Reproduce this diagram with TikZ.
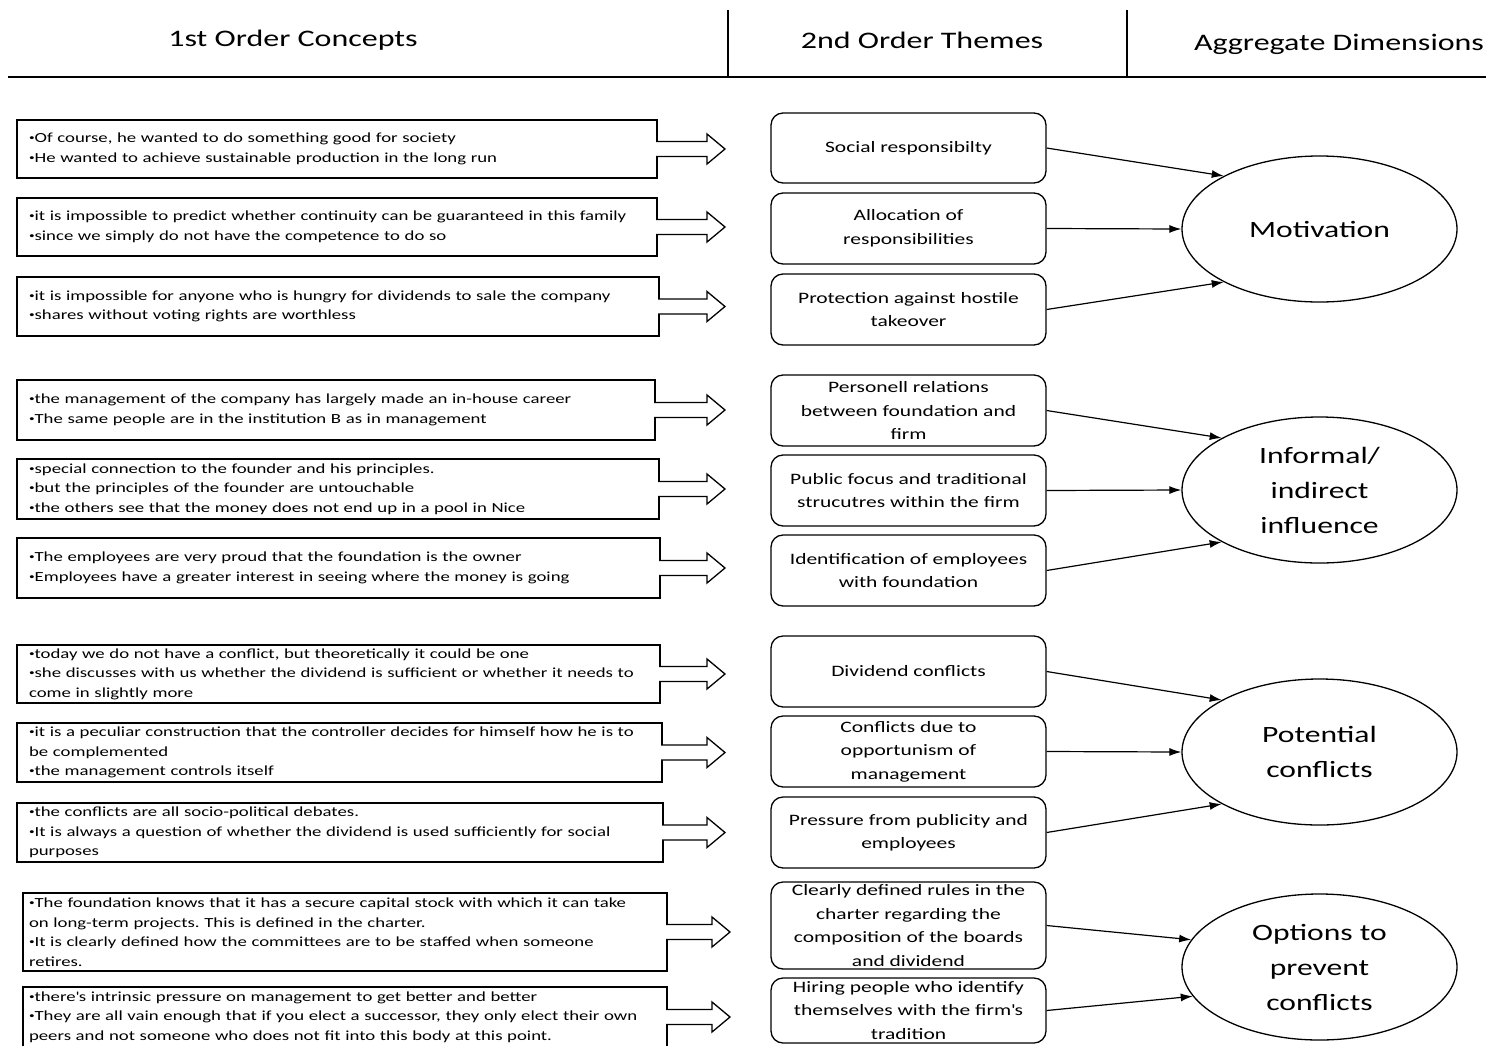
\documentclass[tikz,border=0pt]{standalone}
\usepackage{fontspec}
\setmainfont{Carlito}[FakeStretch=1.35]
\usetikzlibrary{shapes.geometric,arrows.meta,calc}
\newcommand{\bul}{\raisebox{.3ex}{\scalebox{.6}{•}}}
\frenchspacing

\begin{document}
\begin{tikzpicture}[x=1pt,y=-1pt,line width=1.3pt,
    cbox/.style={draw, rectangle, outer sep=0pt, inner xsep=12pt, inner ysep=0pt,
        align=left, anchor=north west, text width=#1,
        font=\fontsize{13.9}{19.5}\selectfont},
    tbox/.style={draw, rounded corners=12pt, inner ysep=0pt, minimum width=275pt,
        align=center, font=\fontsize{15.9}{23.5}\selectfont},
    aggr/.style={draw, ellipse, inner sep=0pt, minimum width=275pt, minimum height=146pt,
        align=center, font=\fontsize{23.4}{35}\selectfont},
    head/.style={font=\fontsize{23.7}{28}\selectfont},
    blockarrow/.style={draw, fill=white},
    link/.style={-{Latex[length=12pt,width=8pt]}, line width=1.2pt}]
    % parâmetros
    \useasboundingbox (0,0) rectangle (1486,1045);
    \coordinate (pA) at (725,0);
    \coordinate (pB) at (730,0);

    % cabeçalho
    \node[head] (h1) at (293,40) {1st Order Concepts};
    \node[head] (h2) at (922,40) {2nd Order Themes};
    \node[head] (h3) at (1339,44) {Aggregate Dimensions};
    \draw[line width=2.5pt] (8,77) -- (1486,77);
    \draw[line width=2pt] (728,10) -- (728,77);
    \draw[line width=2pt] (1127,10) -- (1127,77);

    % conceitos de 1a ordem
    \node[cbox=616pt, minimum height=58pt] (c1) at (17,120)
        {\bul Of course, he wanted to do something good for society\\
         \bul He wanted to achieve sustainable production in the long run};
    \node[cbox=616pt, minimum height=58pt] (c2) at (17,198)
        {\bul it is impossible to predict whether continuity can be guaranteed in this family\\
         \bul since we simply do not have the competence to do so};
    \node[cbox=618pt, minimum height=59pt] (c3) at (17,277)
        {\bul it is impossible for anyone who is hungry for dividends to sale the company\\
         \bul shares without voting rights are worthless};
    \node[cbox=614pt, minimum height=60pt] (c4) at (17,380)
        {\bul the management of the company has largely made an in-house career\\
         \bul The same people are in the institution B as in management};
    \node[cbox=618pt, minimum height=60pt] (c5) at (17,459)
        {\bul special connection to the founder and his principles.\\
         \bul but the principles of the founder are untouchable\\
         \bul the others see that the money does not end up in a pool in Nice};
    \node[cbox=619pt, minimum height=60pt] (c6) at (17,538)
        {\bul The employees are very proud that the foundation is the owner\\
         \bul Employees have a greater interest in seeing where the money is going};
    \node[cbox=619pt, minimum height=58pt] (c7) at (17,645)
        {\bul today we do not have a conflict, but theoretically it could be one\\
         \bul she discusses with us whether the dividend is sufficient or whether it needs to\\
         come in slightly more};
    \node[cbox=621pt, minimum height=59pt] (c8) at (17,723)
        {\bul it is a peculiar construction that the controller decides for himself how he is to\\
         be complemented\\
         \bul the management controls itself};
    \node[cbox=622pt, minimum height=59pt] (c9) at (17,803)
        {\bul the conflicts are all socio-political debates.\\
         \bul It is always a question of whether the dividend is used sufficiently for social\\
         purposes};
    \node[cbox=632pt, inner xsep=6pt, minimum height=78pt] (c10) at (23,893)
        {\bul The foundation knows that it has a secure capital stock with which it can take\\
         on long-term projects. This is defined in the charter.\\
         \bul It is clearly defined how the committees are to be staffed when someone\\
         retires.};
    \node[cbox=632pt, inner xsep=6pt, minimum height=60pt] (c11) at (23,987)
        {\bul there\textquotesingle s intrinsic pressure on management to get better and better\\
         \bul They are all vain enough that if you elect a successor, they only elect their own\\
         peers and not someone who does not fit into this body at this point.};

    % setas largas
    \foreach \b/\p in {c1/pA,c2/pA,c3/pA,c4/pA,c5/pA,c6/pA,c7/pA,c8/pA,c9/pA,c10/pB,c11/pB}
        \draw[blockarrow] ($(\b.east)+(-1,-7.5)$) -- ($(\b.east -| \p)+(-18,-7.5)$)
            -- ($(\b.east -| \p)+(-18,-15)$) -- (\b.east -| \p) -- ($(\b.east -| \p)+(-18,15)$)
            -- ($(\b.east -| \p)+(-18,7.5)$) -- ($(\b.east)+(-1,7.5)$);

    % temas de 2a ordem
    \node[tbox, minimum height=70pt] (t1) at (908.5,148) {Social responsibilty};
    \node[tbox, minimum height=71pt] (t2) at (908.5,228.5) {Allocation of\\responsibilities};
    \node[tbox, minimum height=71pt] (t3) at (908.5,309.5) {Protection against hostile\\takeover};
    \node[tbox, minimum height=71pt] (t4) at (908.5,410.5) {Personell relations\\between foundation and\\firm};
    \node[tbox, minimum height=71pt] (t5) at (908.5,490.5) {Public focus and traditional\\strucutres within the firm};
    \node[tbox, minimum height=71pt] (t6) at (908.5,570.5) {Identification of employees\\with foundation};
    \node[tbox, minimum height=71pt] (t7) at (908.5,671.5) {Dividend conflicts};
    \node[tbox, minimum height=71pt] (t8) at (908.5,751.5) {Conflicts due to\\opportunism of\\management};
    \node[tbox, minimum height=71pt] (t9) at (908.5,832.5) {Pressure from publicity and\\employees};
    \node[tbox, minimum height=87pt] (t10) at (908.5,925.5) {Clearly defined rules in the\\charter regarding the\\composition of the boards\\and dividend};
    \node[tbox, minimum height=65pt] (t11) at (908.5,1010.5) {Hiring people who identify\\themselves with the firm\textquotesingle s\\tradition};

    % dimensões agregadas
    \node[aggr] (m1) at (1319.5,229) {Motivation};
    \node[aggr] (m2) at (1319.5,490) {Informal/\\indirect\\influence};
    \node[aggr] (m3) at (1319.5,752) {Potential\\conflicts};
    \node[aggr] (m4) at (1319.5,967) {Options to\\prevent\\conflicts};

    % ligações
    \draw[link] (t1.east) -- (m1.151);
    \draw[link] (t2.east) -- (m1.west);
    \draw[link] (t3.east) -- (m1.209);
    \draw[link] (t4.east) -- (m2.152);
    \draw[link] (t5.east) -- (m2.west);
    \draw[link] (t6.east) -- (m2.208);
    \draw[link] (t7.east) -- (m3.152);
    \draw[link] (t8.east) -- (m3.west);
    \draw[link] (t9.east) -- (m3.208);
    \draw[link] (t10.east) -- (m4.168);
    \draw[link] (t11.east) -- (m4.193);
\end{tikzpicture}
\end{document}
